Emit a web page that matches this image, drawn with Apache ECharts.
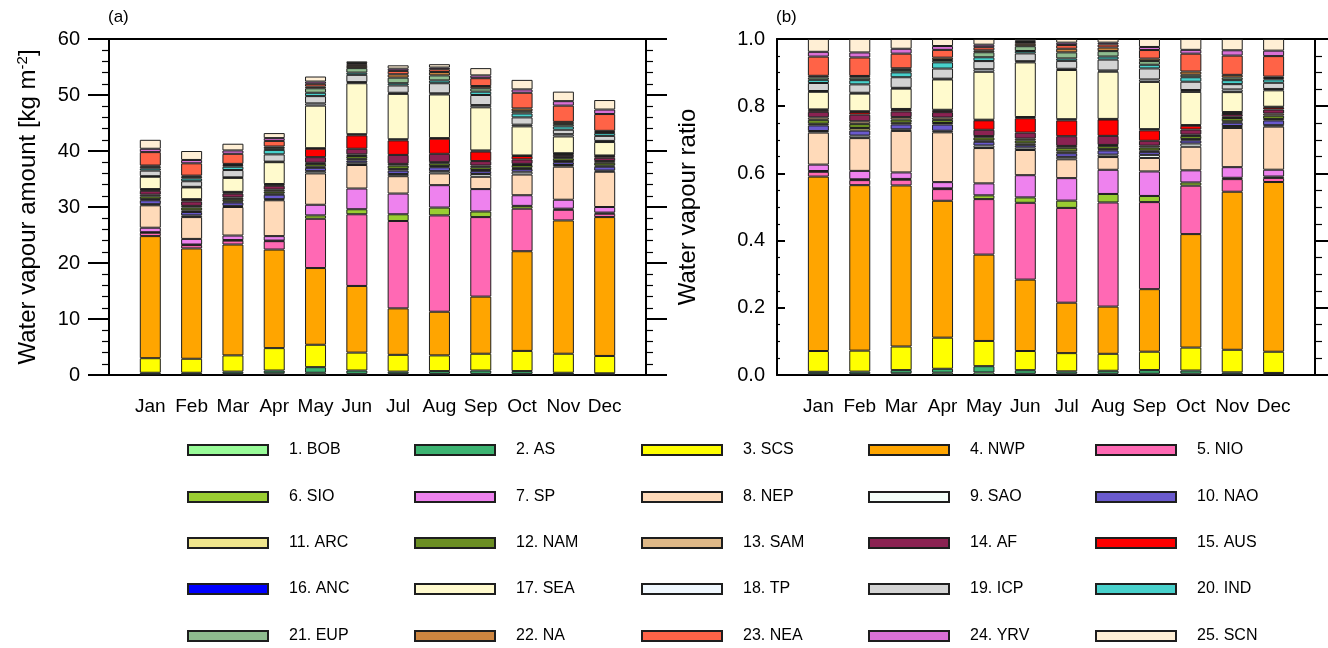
<!DOCTYPE html>
<html>
<head>
<meta charset="utf-8">
<script src="https://cdn.jsdelivr.net/npm/echarts@6/dist/echarts.min.js"></script>
<style>
  html, body { margin: 0; padding: 0; background: #ffffff; }
  #chart { width: 1328px; height: 648px; }
</style>
</head>
<body>
<div id="chart"></div>
<script>
// Months on the x axis
const months = ['Jan', 'Feb', 'Mar', 'Apr', 'May', 'Jun', 'Jul', 'Aug', 'Sep', 'Oct', 'Nov', 'Dec'];

// Source regions (legend labels) and their fill colours
const regionNames = [
  '1. BOB', '2. AS', '3. SCS', '4. NWP', '5. NIO',
  '6. SIO', '7. SP', '8. NEP', '9. SAO', '10. NAO',
  '11. ARC', '12. NAM', '13. SAM', '14. AF', '15. AUS',
  '16. ANC', '17. SEA', '18. TP', '19. ICP', '20. IND',
  '21. EUP', '22. NA', '23. NEA', '24. YRV', '25. SCN'
];
const regionColors = [
  '#98FB98', '#3CB371', '#FFFF00', '#FFA500', '#FF69B4',
  '#9ACD32', '#EE82EE', '#FFDAB9', '#F5FFFA', '#6A5ACD',
  '#F0E68C', '#6B8E23', '#DEB887', '#8B2252', '#FF0000',
  '#0000FF', '#FFFACD', '#F0F8FF', '#D3D3D3', '#48D1CC',
  '#8FBC8F', '#CD853F', '#FF6347', '#DA70D6', '#FFEFD5'
];

// Monthly water vapour amount contributed by each region [kg m-2], Jan..Dec
const BOB = [0.1, 0.1, 0.2, 0.3, 0.4, 0.2, 0.2, 0.2, 0.2, 0.2, 0.1, 0.1];
const AS  = [0.3, 0.3, 0.4, 0.5, 1.0, 0.6, 0.4, 0.5, 0.6, 0.5, 0.3, 0.2];
const SCS = [2.6, 2.5, 2.9, 4.0, 4.0, 3.2, 3.0, 2.8, 3.0, 3.6, 3.4, 3.1];
const NWP = [21.8, 19.7, 19.8, 17.6, 13.7, 11.9, 8.3, 7.8, 10.2, 17.8, 23.8, 24.8];
const NIO = [0.6, 0.6, 0.7, 1.5, 8.8, 12.8, 15.6, 17.2, 14.2, 7.6, 1.9, 0.6];
const SIO = [0.1, 0.1, 0.1, 0.1, 0.6, 0.9, 1.2, 1.4, 1.0, 0.5, 0.2, 0.2];
const SP  = [0.8, 1.0, 0.8, 0.8, 1.9, 3.7, 3.7, 4.0, 4.0, 1.9, 1.6, 1.0];
const NEP = [4.0, 3.9, 5.1, 6.4, 5.6, 4.2, 3.1, 2.1, 2.2, 3.7, 5.9, 6.3];
const SAO = [0.2, 0.3, 0.2, 0.2, 0.4, 0.4, 0.4, 0.4, 0.5, 0.5, 0.3, 0.2];
const NAO = [0.7, 0.6, 0.6, 0.8, 0.6, 0.4, 0.6, 0.7, 0.5, 0.5, 0.5, 0.7];
const ARC = [0.2, 0.3, 0.2, 0.2, 0.2, 0.3, 0.3, 0.2, 0.2, 0.2, 0.2, 0.2];
const NAM = [0.5, 0.5, 0.4, 0.4, 0.5, 0.5, 0.6, 0.5, 0.5, 0.5, 0.5, 0.5];
const SAM = [0.3, 0.3, 0.3, 0.3, 0.2, 0.3, 0.3, 0.2, 0.3, 0.2, 0.2, 0.3];
const AF  = [0.7, 0.8, 0.7, 0.7, 1.0, 1.0, 1.6, 1.5, 0.8, 0.8, 0.4, 0.6];
const AUS = [0.2, 0.3, 0.2, 0.2, 1.5, 2.4, 2.6, 2.7, 1.7, 0.6, 0.2, 0.3];
const ANC = [0.1, 0.1, 0.1, 0.1, 0.1, 0.2, 0.2, 0.1, 0.2, 0.1, 0.1, 0.1];
const SEA = [2.2, 2.1, 2.5, 3.9, 7.6, 9.1, 8.1, 7.8, 7.7, 5.2, 3.0, 2.4];
const TP  = [0.1, 0.1, 0.1, 0.1, 0.4, 0.2, 0.2, 0.2, 0.4, 0.3, 0.4, 0.2];
const ICP = [1.0, 1.0, 1.3, 1.3, 1.3, 1.3, 1.3, 1.8, 1.8, 1.3, 0.8, 0.9];
const IND = [0.4, 0.5, 0.6, 0.8, 0.6, 0.4, 0.4, 0.5, 0.6, 0.7, 0.6, 0.5];
const EUP = [0.3, 0.3, 0.3, 0.3, 0.8, 0.8, 1.0, 0.9, 0.6, 0.4, 0.4, 0.2];
const NA  = [0.2, 0.2, 0.2, 0.3, 0.3, 0.4, 0.6, 0.6, 0.4, 0.5, 0.4, 0.2];
const NEA = [2.4, 2.2, 1.8, 1.0, 0.5, 0.3, 0.6, 0.5, 1.4, 2.8, 2.9, 3.0];
const YRV = [0.6, 0.6, 0.6, 0.5, 0.4, 0.2, 0.4, 0.3, 0.5, 0.6, 0.8, 0.8];
const SCN = [1.6, 1.6, 1.2, 0.9, 0.9, 0.3, 0.6, 0.6, 1.3, 1.7, 1.7, 1.7];

const regionValues = [BOB, AS, SCS, NWP, NIO, SIO, SP, NEP, SAO, NAO, ARC, NAM, SAM,
                      AF, AUS, ANC, SEA, TP, ICP, IND, EUP, NA, NEA, YRV, SCN];

// Axis tick values
const amountTicks = [0, 10, 20, 30, 40, 50, 60];
const ratioTicks = [0.0, 0.2, 0.4, 0.6, 0.8, 1.0];

// Monthly totals, used to express each contribution as a fraction of the month
const monthTotals = months.map((m, i) => regionValues.reduce((s, arr) => s + arr[i], 0));

// Category slots: an empty slot at each end keeps a margin inside the frame
const slots = [''].concat(months, ['']);

const FONT = 'Liberation Sans, Arial, Helvetica, sans-serif';
const INK = '#000000';

const chart = echarts.init(document.getElementById('chart'), null, { renderer: 'canvas' });

function barSeries(k, panel) {
  const vals = regionValues[k].map((v, i) => panel === 0 ? v : v / monthTotals[i]);
  return {
    name: regionNames[k],
    type: 'bar',
    xAxisIndex: panel === 0 ? 0 : 2,
    yAxisIndex: panel === 0 ? 0 : 2,
    stack: panel === 0 ? 'amount' : 'ratio',
    barWidth: 21,
    data: ['-'].concat(vals, ['-']),
    itemStyle: { color: regionColors[k], borderColor: '#1e1e1e', borderWidth: 1 },
    emphasis: { disabled: true },
    animation: false
  };
}

const series = [];
for (let p = 0; p < 2; p++) {
  for (let k = 0; k < regionNames.length; k++) series.push(barSeries(k, p));
}

function monthAxis(gridIndex) {
  return {
    gridIndex: gridIndex, type: 'category', data: slots, boundaryGap: false, position: 'bottom',
    axisLine: { show: true, onZero: false, lineStyle: { color: INK, width: 2 } },
    axisTick: { show: false },
    splitLine: { show: false },
    axisLabel: { interval: 0, margin: 22, fontSize: 19, color: INK, fontFamily: FONT }
  };
}
function topAxis(gridIndex) {
  return {
    gridIndex: gridIndex, type: 'value', min: 0, max: 13, position: 'top',
    axisLine: { show: true, onZero: false, lineStyle: { color: INK, width: 2 } },
    axisTick: { show: false }, axisLabel: { show: false }, splitLine: { show: false }
  };
}
function leftAxis(gridIndex, ticks, minorSplit, name, gap, fmt, labelMargin, tickLen, tickInside) {
  return {
    gridIndex: gridIndex, type: 'value', position: 'left',
    min: ticks[0], max: ticks[ticks.length - 1], interval: ticks[1] - ticks[0],
    axisLine: { show: true, onZero: false, lineStyle: { color: INK, width: 2 } },
    axisTick: { show: true, inside: tickInside, length: tickLen, lineStyle: { color: INK, width: 2 } },
    minorTick: { show: true, splitNumber: minorSplit, length: Math.round(tickLen / 3), lineStyle: { color: INK, width: 1.2 } },
    splitLine: { show: false },
    axisLabel: { margin: labelMargin, fontSize: 20, color: INK, fontFamily: FONT, formatter: fmt },
    name: name, nameLocation: 'middle', nameGap: gap,
    nameTextStyle: {
      fontSize: 24, color: INK, fontFamily: FONT,
      rich: { sup: { fontSize: 15, color: INK, fontFamily: FONT, padding: [0, 0, 12, 0] } }
    }
  };
}
function rightAxis(gridIndex, ticks, minorSplit) {
  return {
    gridIndex: gridIndex, type: 'value', position: 'right',
    min: ticks[0], max: ticks[ticks.length - 1], interval: ticks[1] - ticks[0],
    axisLine: { show: true, onZero: false, lineStyle: { color: INK, width: 2 } },
    axisTick: { show: true, inside: false, length: 21, lineStyle: { color: INK, width: 2 } },
    minorTick: { show: true, splitNumber: minorSplit, length: 7, lineStyle: { color: INK, width: 1.2 } },
    splitLine: { show: false },
    axisLabel: { show: false }
  };
}

// Legend: a 5 x 5 grid of swatches, one legend block per entry
const legendLefts = [187, 414, 641, 868, 1095];
const legendRowCenters = [451, 498, 544, 590, 637];
const legends = regionNames.map((name, k) => ({
  orient: 'horizontal',
  left: legendLefts[k % 5], top: legendRowCenters[Math.floor(k / 5)] - 9,
  padding: 0, itemWidth: 80, itemHeight: 10, icon: 'rect', selectedMode: false,
  textStyle: { fontSize: 16, color: INK, fontFamily: FONT, padding: [0, 0, 0, 16] },
  data: [name]
}));

chart.setOption({
  backgroundColor: '#ffffff',
  animation: false,
  grid: [
    { left: 109, top: 39, width: 537, height: 336 },
    { left: 777, top: 39, width: 538, height: 336 }
  ],
  xAxis: [monthAxis(0), topAxis(0), monthAxis(1), topAxis(1)],
  yAxis: [
    leftAxis(0, amountTicks, 5, 'Water vapour amount [kg m{sup|-2}]', 67, v => String(v), 29, 21, false),
    rightAxis(0, amountTicks, 5),
    leftAxis(1, ratioTicks, 4, 'Water vapour ratio', 77, v => v.toFixed(1), 12, 8, true),
    rightAxis(1, ratioTicks, 4)
  ],
  legend: legends,
  graphic: [
    { type: 'text', left: 108, top: 9, style: { text: '(a)', fontSize: 17, fill: INK, fontFamily: FONT } },
    { type: 'text', left: 776, top: 9, style: { text: '(b)', fontSize: 17, fill: INK, fontFamily: FONT } }
  ],
  series: series
});
</script>
</body>
</html>
